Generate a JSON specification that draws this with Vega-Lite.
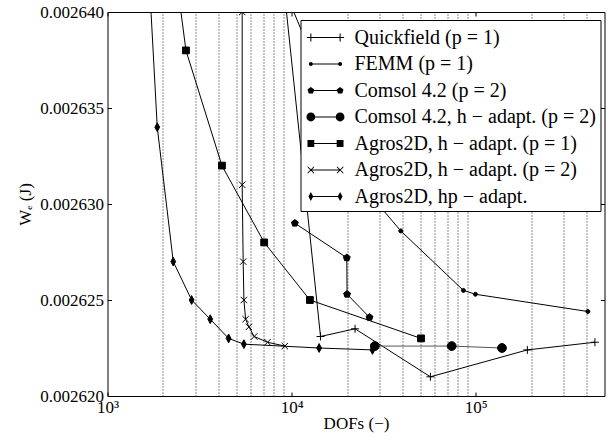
{
  "$schema": "https://vega.github.io/schema/vega-lite/v6.json",
  "width": 497,
  "height": 384,
  "autosize": {"type": "none"},
  "padding": {"left": 107.5, "top": 12, "right": 5.5, "bottom": 45},
  "background": "white",
  "config": {
    "view": {"stroke": "black", "strokeWidth": 1},
    "font": "Liberation Serif"
  },
  "data": {
    "values": [
      {"s": "Quickfield (p = 1)", "i": 0, "dofs": 8100, "we": 0.0026458},
      {"s": "Quickfield (p = 1)", "i": 1, "dofs": 14350, "we": 0.0026231},
      {"s": "Quickfield (p = 1)", "i": 2, "dofs": 22100, "we": 0.0026235},
      {"s": "Quickfield (p = 1)", "i": 3, "dofs": 56700, "we": 0.002621},
      {"s": "Quickfield (p = 1)", "i": 4, "dofs": 190500, "we": 0.0026224},
      {"s": "Quickfield (p = 1)", "i": 5, "dofs": 443500, "we": 0.0026228},
      {"s": "FEMM (p = 1)", "i": 0, "dofs": 5750, "we": 0.0026458},
      {"s": "FEMM (p = 1)", "i": 1, "dofs": 26570, "we": 0.0026305},
      {"s": "FEMM (p = 1)", "i": 2, "dofs": 39130, "we": 0.0026286},
      {"s": "FEMM (p = 1)", "i": 3, "dofs": 85660, "we": 0.0026255},
      {"s": "FEMM (p = 1)", "i": 4, "dofs": 99500, "we": 0.0026253},
      {"s": "FEMM (p = 1)", "i": 5, "dofs": 406200, "we": 0.0026244},
      {"s": "Comsol 4.2 (p = 2)", "i": 0, "dofs": 10410, "we": 0.002629},
      {"s": "Comsol 4.2 (p = 2)", "i": 1, "dofs": 19930, "we": 0.0026272},
      {"s": "Comsol 4.2 (p = 2)", "i": 2, "dofs": 20000, "we": 0.0026253},
      {"s": "Comsol 4.2 (p = 2)", "i": 3, "dofs": 26470, "we": 0.0026241},
      {"s": "Comsol 4.2, h − adapt. (p = 2)", "i": 0, "dofs": 28280, "we": 0.0026226},
      {"s": "Comsol 4.2, h − adapt. (p = 2)", "i": 1, "dofs": 74000, "we": 0.0026226},
      {"s": "Comsol 4.2, h − adapt. (p = 2)", "i": 2, "dofs": 138760, "we": 0.0026225},
      {"s": "Agros2D, h − adapt. (p = 1)", "i": 0, "dofs": 2225, "we": 0.0026438},
      {"s": "Agros2D, h − adapt. (p = 1)", "i": 1, "dofs": 2667, "we": 0.002638},
      {"s": "Agros2D, h − adapt. (p = 1)", "i": 2, "dofs": 4182, "we": 0.002632},
      {"s": "Agros2D, h − adapt. (p = 1)", "i": 3, "dofs": 7093, "we": 0.002628},
      {"s": "Agros2D, h − adapt. (p = 1)", "i": 4, "dofs": 12560, "we": 0.002625},
      {"s": "Agros2D, h − adapt. (p = 1)", "i": 5, "dofs": 50420, "we": 0.002623},
      {"s": "Agros2D, h − adapt. (p = 2)", "i": 0, "dofs": 5387, "we": 0.00264},
      {"s": "Agros2D, h − adapt. (p = 2)", "i": 1, "dofs": 5387, "we": 0.002631},
      {"s": "Agros2D, h − adapt. (p = 2)", "i": 2, "dofs": 5455, "we": 0.002627},
      {"s": "Agros2D, h − adapt. (p = 2)", "i": 3, "dofs": 5504, "we": 0.002625},
      {"s": "Agros2D, h − adapt. (p = 2)", "i": 4, "dofs": 5623, "we": 0.002624},
      {"s": "Agros2D, h − adapt. (p = 2)", "i": 5, "dofs": 5860, "we": 0.0026236},
      {"s": "Agros2D, h − adapt. (p = 2)", "i": 6, "dofs": 6259, "we": 0.0026231},
      {"s": "Agros2D, h − adapt. (p = 2)", "i": 7, "dofs": 7400, "we": 0.0026228},
      {"s": "Agros2D, h − adapt. (p = 2)", "i": 8, "dofs": 9186, "we": 0.0026226},
      {"s": "Agros2D, hp − adapt.", "i": 0, "dofs": 1598, "we": 0.0026458},
      {"s": "Agros2D, hp − adapt.", "i": 1, "dofs": 1863, "we": 0.002634},
      {"s": "Agros2D, hp − adapt.", "i": 2, "dofs": 2275, "we": 0.002627},
      {"s": "Agros2D, hp − adapt.", "i": 3, "dofs": 2863, "we": 0.002625},
      {"s": "Agros2D, hp − adapt.", "i": 4, "dofs": 3613, "we": 0.002624},
      {"s": "Agros2D, hp − adapt.", "i": 5, "dofs": 4546, "we": 0.002623},
      {"s": "Agros2D, hp − adapt.", "i": 6, "dofs": 5504, "we": 0.0026227},
      {"s": "Agros2D, hp − adapt.", "i": 7, "dofs": 14100, "we": 0.0026225},
      {"s": "Agros2D, hp − adapt.", "i": 8, "dofs": 27480, "we": 0.0026224}
    ]
  },
  "layer": [
    {
      "mark": {"type": "line", "clip": true, "strokeWidth": 1},
      "encoding": {
        "x": {
          "field": "dofs", "type": "quantitative",
          "scale": {"type": "log", "domain": [1000, 500000], "nice": false},
          "axis": {
            "orient": "bottom",
            "values": [1000, 10000, 100000],
            "labelExpr": "datum.value == 1000 ? '10³' : datum.value == 10000 ? '10⁴' : '10⁵'",
            "tickSize": -4, "tickColor": "black", "tickWidth": 1,
            "domain": false, "grid": false,
            "labelFont": "Liberation Serif", "labelFontSize": 17, "labelColor": "black",
            "labelPadding": 7, "labelFlush": false,
            "title": "DOFs (−)", "titleFont": "Liberation Serif", "titleFontSize": 17,
            "titleFontWeight": "normal", "titleColor": "black", "titlePadding": 0
          }
        },
        "y": {
          "field": "we", "type": "quantitative",
          "scale": {"domain": [0.00262, 0.00264], "nice": false, "zero": false},
          "axis": {
            "orient": "left",
            "values": [0.00262, 0.002625, 0.00263, 0.002635, 0.00264],
            "format": ".6f",
            "tickSize": -4, "tickColor": "black", "tickWidth": 1,
            "domain": false, "grid": false,
            "labelFont": "Liberation Serif", "labelFontSize": 17, "labelColor": "black",
            "labelPadding": 8, "labelFlush": false,
            "title": "Wₑ (J)", "titleFont": "Liberation Serif", "titleFontSize": 17,
            "titleFontWeight": "normal", "titleColor": "black", "titlePadding": 5
          }
        },
        "color": {
          "field": "s", "type": "nominal",
          "scale": {
            "domain": ["Agros2D, h − adapt. (p = 1)", "Agros2D, h − adapt. (p = 2)", "Agros2D, hp − adapt.", "Comsol 4.2 (p = 2)", "Comsol 4.2, h − adapt. (p = 2)", "FEMM (p = 1)", "Quickfield (p = 1)"],
            "range": ["black", "black", "black", "black", "#555555", "black", "black"]
          },
          "legend": null
        },
        "order": {"field": "i", "type": "quantitative"}
      }
    },
    {
      "mark": {"type": "point", "clip": true, "filled": true, "fill": "black", "stroke": "black", "strokeWidth": 1, "size": 64, "opacity": 1},
      "encoding": {
        "x": {
          "field": "dofs", "type": "quantitative",
          "scale": {"type": "log", "domain": [1000, 500000], "nice": false},
          "axis": {
            "orient": "top",
            "values": [1000, 2000, 3000, 4000, 5000, 6000, 7000, 8000, 9000, 10000, 20000, 30000, 40000, 50000, 60000, 70000, 80000, 90000, 100000, 200000, 300000, 400000],
            "labels": false, "domain": false, "title": null,
            "grid": true, "gridDash": [1, 2], "gridColor": "black", "gridWidth": 1,
            "gridOpacity": {"condition": {"test": "datum.value == 1000 || datum.value == 10000 || datum.value == 100000", "value": 0}, "value": 0.9},
            "tickSize": -4, "tickColor": "black",
            "tickOpacity": {"condition": {"test": "datum.value == 1000 || datum.value == 10000 || datum.value == 100000", "value": 1}, "value": 0}
          }
        },
        "y": {
          "field": "we", "type": "quantitative",
          "scale": {"domain": [0.00262, 0.00264], "nice": false, "zero": false},
          "axis": {
            "orient": "right",
            "values": [0.00262, 0.002625, 0.00263, 0.002635, 0.00264],
            "labels": false, "domain": false, "grid": false, "title": null,
            "tickSize": -4, "tickColor": "black"
          }
        },
        "shape": {
          "field": "s", "type": "nominal",
          "scale": {
            "domain": ["Agros2D, h − adapt. (p = 1)", "Agros2D, h − adapt. (p = 2)", "Agros2D, hp − adapt.", "Comsol 4.2 (p = 2)", "Comsol 4.2, h − adapt. (p = 2)", "FEMM (p = 1)", "Quickfield (p = 1)"],
            "range": [
              "M-0.85,-0.85H0.85V0.85H-0.85Z",
              "M-0.8,-0.8L0.8,0.8M-0.8,0.8L0.8,-0.8",
              "M0,-1.1L0.6,0L0,1.1L-0.6,0Z",
              "M0,-0.9L0.856,-0.278L0.529,0.728L-0.529,0.728L-0.856,-0.278Z",
              "M-1.1,0A1.1,1.1,0,1,1,1.1,0A1.1,1.1,0,1,1,-1.1,0Z",
              "M-0.5,0A0.5,0.5,0,1,1,0.5,0A0.5,0.5,0,1,1,-0.5,0Z",
              "M-1,0H1M0,-1V1"
            ]
          },
          "legend": null
        }
      }
    },
    {
      "mark": {"type": "point", "clip": true, "filled": false, "fill": "black", "stroke": "black", "strokeWidth": 1, "size": 676, "opacity": 0},
      "encoding": {
        "x": {
          "field": "dofs", "type": "quantitative",
          "scale": {"type": "log", "domain": [1000, 500000], "nice": false},
          "axis": null
        },
        "y": {
          "field": "we", "type": "quantitative",
          "scale": {"domain": [0.00262, 0.00264], "nice": false, "zero": false},
          "axis": null
        },
        "shape": {
          "field": "s", "type": "nominal",
          "scale": {
            "domain": ["Quickfield (p = 1)", "FEMM (p = 1)", "Comsol 4.2 (p = 2)", "Comsol 4.2, h − adapt. (p = 2)", "Agros2D, h − adapt. (p = 1)", "Agros2D, h − adapt. (p = 2)", "Agros2D, hp − adapt."],
            "range": [
              "M-0.858,-0.04H2.008V0.04H-0.858V-0.04M-0.59,-0.308H-0.51V0.308H-0.59V-0.308M1.66,-0.308H1.74V0.308H1.66V-0.308",
              "M-0.55,-0.04H1.7V0.04H-0.55V-0.04M-0.704,0A0.154,0.154,0,1,1,-0.396,0A0.154,0.154,0,1,1,-0.704,0M1.546,0A0.154,0.154,0,1,1,1.854,0A0.154,0.154,0,1,1,1.546,0",
              "M-0.55,-0.04H1.7V0.04H-0.55V-0.04M-0.55,-0.277L-0.287,-0.0855L-0.387,0.224L-0.713,0.224L-0.813,-0.0855L-0.55,-0.277M1.7,-0.277L1.963,-0.0855L1.863,0.224L1.537,0.224L1.437,-0.0855L1.7,-0.277",
              "M-0.55,-0.04H1.7V0.04H-0.55V-0.04M-0.888,0A0.338,0.338,0,1,1,-0.212,0A0.338,0.338,0,1,1,-0.888,0M1.362,0A0.338,0.338,0,1,1,2.038,0A0.338,0.338,0,1,1,1.362,0",
              "M-0.55,-0.04H1.7V0.04H-0.55V-0.04M-0.812,-0.262H-0.288V0.262H-0.812V-0.262M1.438,-0.262H1.962V0.262H1.438V-0.262",
              "M-0.55,-0.04H1.7V0.04H-0.55V-0.04M-0.796,-0.296L-0.304,0.196L-0.304,0.296L-0.796,-0.196L-0.796,-0.296M-0.796,0.196L-0.304,-0.296L-0.304,-0.196L-0.796,0.296L-0.796,0.196M1.454,-0.296L1.946,0.196L1.946,0.296L1.454,-0.196L1.454,-0.296M1.454,0.196L1.946,-0.296L1.946,-0.196L1.454,0.296L1.454,0.196",
              "M-0.55,-0.04H1.7V0.04H-0.55V-0.04M-0.55,-0.338L-0.365,0L-0.55,0.338L-0.735,0L-0.55,-0.338M1.7,-0.338L1.885,0L1.7,0.338L1.515,0L1.7,-0.338"
            ]
          },
          "legend": {
            "orient": "none", "legendX": 193, "legendY": 8,
            "title": null,
            "fillColor": "white", "strokeColor": "black",
            "padding": 4, "rowPadding": 2.5,
            "symbolSize": 676, "symbolStrokeWidth": 1, "symbolOpacity": 1,
            "symbolFillColor": "black", "symbolStrokeColor": "black",
            "labelFont": "Liberation Serif", "labelFontSize": 20, "labelColor": "black",
            "labelLimit": 400, "labelOffset": 23
          }
        }
      }
    }
  ],
  "resolve": {
    "scale": {"shape": "independent"},
    "axis": {"x": "independent", "y": "independent"}
  }
}
